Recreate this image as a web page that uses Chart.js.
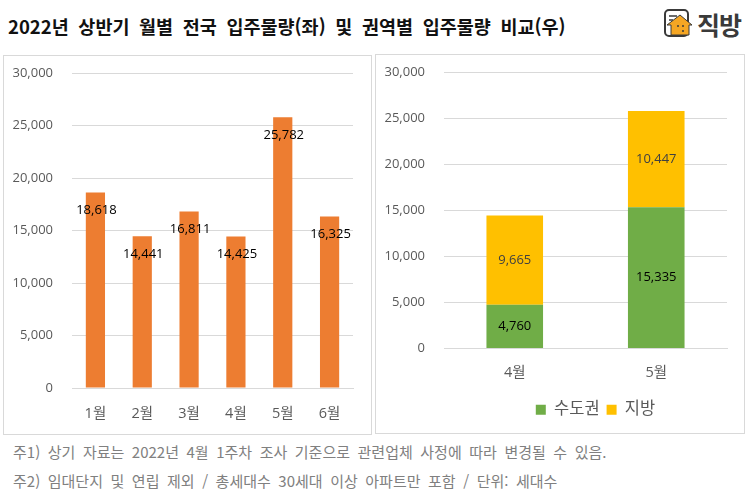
<!DOCTYPE html>
<html lang="ko">
<head>
<meta charset="utf-8">
<script src="https://cdn.jsdelivr.net/npm/chart.js@4"></script>
<style>
html,body{margin:0;padding:0;background:#fff;width:748px;height:499px;overflow:hidden;font-family:"Noto Sans CJK KR","Noto Sans",sans-serif}
.abs{position:absolute;white-space:nowrap}
#title{left:8px;top:14px;font-size:18.5px;line-height:24px;font-weight:700;color:#111;word-spacing:4.5px}
.panel{position:absolute;box-sizing:border-box;border:1px solid #d9d9d9;background:#fff}
.panel canvas{display:block}
.note{left:13px;font-size:15px;line-height:20px;color:#808080;word-spacing:3.35px}
#brand{left:697px;top:8px;font-size:25px;line-height:32px;font-weight:700;color:#3a3a3a;letter-spacing:-1px}
</style>
</head>
<body>
<div class="abs" id="title">2022년 상반기 월별 전국 입주물량(좌) 및 권역별 입주물량 비교(우)</div>
<svg class="abs" style="left:663px;top:8px" width="32" height="30" viewBox="0 0 32 30">
  <rect x="2" y="2" width="23" height="26" rx="4" fill="#fff" stroke="#3a3a3a" stroke-width="2"/>
  <path d="M6 8h8M6 12h4" stroke="#3a3a3a" stroke-width="1.5"/>
  <path d="M4 17 L17 7 L29 17 L26 17 L26 27 L8 27 L8 17 Z" fill="#f5a623" stroke="#3a3a3a" stroke-width="1"/>
  <circle cx="15" cy="18" r="1" fill="#3a3a3a"/><circle cx="20" cy="18" r="1" fill="#3a3a3a"/><circle cx="20" cy="23" r="1" fill="#3a3a3a"/>
</svg>
<div class="abs" id="brand">직방</div>
<div class="panel" style="left:3px;top:55px;width:369px;height:380px"><canvas id="left" width="367" height="378"></canvas></div>
<div class="panel" style="left:375px;top:54px;width:370px;height:380px"><canvas id="right" width="368" height="378"></canvas></div>
<div class="abs note" style="top:442px">주1) 상기 자료는 2022년 4월 1주차 조사 기준으로 관련업체 사정에 따라 변경될 수 있음.</div>
<div class="abs note" style="top:471px">주2) 임대단지 및 연립 제외 / 총세대수 30세대 이상 아파트만 포함 / 단위: 세대수</div>
<script>
const monthLabels = ['1월','2월','3월','4월','5월','6월'];
const monthTotals = [18618,14441,16811,14425,25782,16325];
const regionMonths = ['4월','5월'];
const capitalArea = [4760,15335];
const provinces = [9665,10447];
const yTicks = [0,5000,10000,15000,20000,25000,30000];

const FONT = '"Open Sans","Noto Sans CJK KR",sans-serif';
const fmt = v => v.toLocaleString('en-US');

const valueLabels = {
  id:'valueLabels',
  afterDatasetsDraw(chart, args, opts){
    const c = chart.ctx;
    c.save();
    c.font = '13px ' + FONT;
    c.textAlign = 'center';
    c.textBaseline = 'middle';
    chart.data.datasets.forEach((ds,i)=>{
      chart.getDatasetMeta(i).data.forEach((el,j)=>{
        const p = el.getProps(['x','y','base'],true);
        const y = opts.mode === 'end' ? p.y + 18 : (p.y + p.base)/2;
        c.fillStyle = ds.labelColor || '#000';
        c.fillText(fmt(ds.data[j]), p.x + (opts.mode === 'end' ? 1 : 0), y);
      });
    });
    c.restore();
  }
};

const shiftLegend = {
  id:'shiftLegend',
  afterLayout(chart){
    if(chart.legend){ chart.legend.left += 44; chart.legend.right += 44; }
  }
};

function axes(leftW, bottomH, pad, stacked){
  return {
    x:{stacked, grid:{display:false,drawTicks:false}, border:{display:true,color:'#d9d9d9'},
       ticks:{color:'#595959',font:{family:FONT,size:14.5},padding:pad,maxRotation:0},
       afterFit(s){s.height=bottomH;}},
    y:{stacked, min:0,max:30000,
       afterBuildTicks(s){s.ticks=yTicks.map(v=>({value:v}));},
       grid:{color:'#d9d9d9',drawTicks:false}, border:{display:false},
       ticks:{color:'#595959',font:{family:FONT,size:13},padding:19,callback:fmt},
       afterFit(s){s.width=leftW;s.paddingTop=0;s.paddingBottom=0;}}
  };
}

new Chart(document.getElementById('left'),{
  type:'bar',
  data:{labels:monthLabels,datasets:[{data:monthTotals,backgroundColor:'#ed7d31',barPercentage:0.41,categoryPercentage:1,labelColor:'#000'}]},
  options:{responsive:false,animation:false,
    layout:{padding:{left:0,right:18,top:17,bottom:0}},
    plugins:{legend:{display:false},tooltip:{enabled:false},valueLabels:{mode:'end'}},
    scales:axes(68,46,17,false)},
  plugins:[valueLabels]
});

new Chart(document.getElementById('right'),{
  type:'bar',
  data:{labels:regionMonths,datasets:[
    {label:'수도권',data:capitalArea,backgroundColor:'#70ad47',barPercentage:0.4,categoryPercentage:1,labelColor:'#000'},
    {label:'지방',data:provinces,backgroundColor:'#ffc000',barPercentage:0.4,categoryPercentage:1,labelColor:'#404040'}
  ]},
  options:{responsive:false,animation:false,
    layout:{padding:{left:0,right:17,top:17,bottom:5}},
    plugins:{tooltip:{enabled:false},valueLabels:{mode:'center'},
      legend:{position:'bottom',align:'center',labels:{boxWidth:10,boxHeight:10,padding:7,color:'#595959',font:{family:FONT,size:16.5}}}},
    scales:axes(68,46,16,true)},
  plugins:[valueLabels,shiftLegend]
});
</script>
</body>
</html>
